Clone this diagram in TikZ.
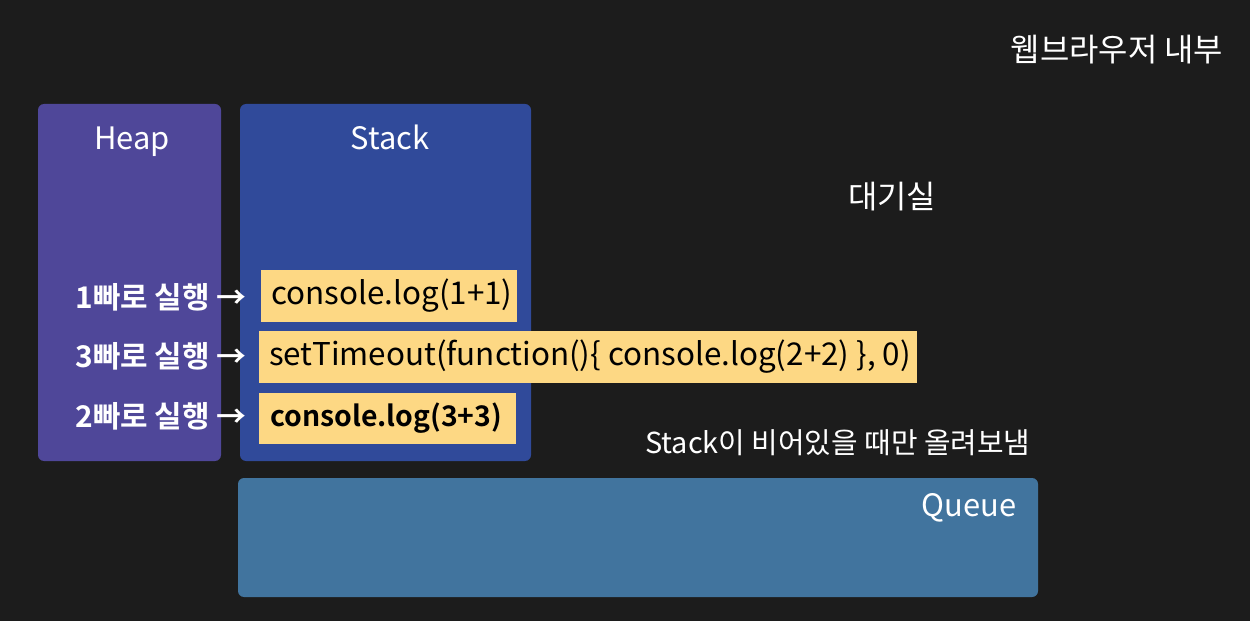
\documentclass[tikz,border=0pt]{standalone}
\usepackage{fontspec}
\setmainfont{Noto Sans CJK KR}
\newfontfamily\krbold{Noto Sans CJK KR Bold}
\definecolor{bgc}{HTML}{1C1C1C}
\definecolor{heapc}{HTML}{4F4799}
\definecolor{stackc}{HTML}{304A9A}
\definecolor{queuec}{HTML}{41749E}
\definecolor{codec}{HTML}{FDD884}
\tikzset{
  panel/.style={rounded corners=6bp, inner sep=0pt},
  title/.style={text=white, font=\fontsize{31}{36}\selectfont},
  codefill/.style={fill=codec, anchor=west, inner sep=0pt, minimum height=51bp},
  codetext/.style={anchor=west, inner sep=0pt, text=black, font=\fontsize{31.5}{36}\selectfont},
  orderlbl/.style={text=white, anchor=east, font=\krbold\fontsize{30}{34}\selectfont},
  note/.style={text=white, font=\fontsize{29}{34}\selectfont}
}
\begin{document}
\begin{tikzpicture}[x=1bp,y=-1bp]
\fill[bgc] (0,0) rectangle (1250,621);
\useasboundingbox (0,0) rectangle (1250,621);
% panels
\fill[heapc, panel] (38,104) rectangle (221,461);
\fill[stackc, panel] (240,104) rectangle (531,461);
\fill[queuec, panel] (238,478) rectangle (1038,597);
\node[title, anchor=base] (heap) at (132,150) {Heap};
\node[title, anchor=base] (stack) at (390,150) {Stack};
\node[title, anchor=east] (queue) at (1020,508) {Queue};
% code boxes
\node[codefill, minimum width=256bp] (b1) at (261,296) {};
\node[codefill, minimum width=658bp] (b2) at (259,357) {};
\node[codefill, minimum width=257bp] (b3) at (259,418) {};
\node[codetext] (c1) at ([xshift=10bp]b1.west) {console.log(1+1)};
\node[codetext] (c2) at ([xshift=10bp]b2.west) {setTimeout(function()\{ console.log(2+2) \}, 0)};
\node[codetext, font=\krbold\fontsize{28.5}{34}\selectfont] (c3) at ([xshift=11bp]b3.west) {console.log(3+3)};
% order labels
\node[orderlbl] (o1) at (250,297) {1빠로 실행 →};
\node[orderlbl] (o2) at (250,356) {3빠로 실행 →};
\node[orderlbl] (o3) at (250,416) {2빠로 실행 →};
% notes
\node[note, font=\fontsize{32}{36}\selectfont] (browser) at (1117,50) {웹브라우저 내부};
\node[note, font=\fontsize{32}{36}\selectfont] (wait) at (892,197) {대기실};
\node[note, anchor=east] (rule) at (1034,443) {Stack이 비어있을 때만 올려보냄};
\end{tikzpicture}
\end{document}
